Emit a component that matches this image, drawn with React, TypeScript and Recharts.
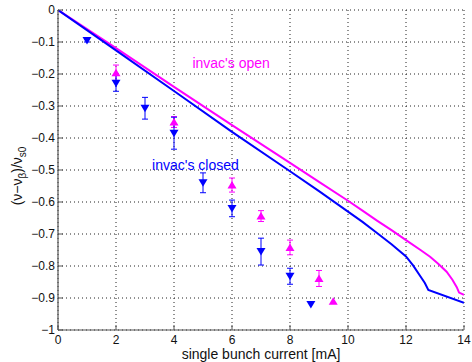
import React from "react";
import {
  ComposedChart,
  Line,
  Scatter,
  XAxis,
  YAxis,
  CartesianGrid,
  ErrorBar,
  ReferenceDot,
} from "recharts";

const FONT = "'Liberation Sans', Arial, sans-serif";
const BLUE = "#0000ff";
const MAGENTA = "#ff00ff";

const xTicks = [0, 2, 4, 6, 8, 10, 12, 14];
const yTicks = [-1, -0.9, -0.8, -0.7, -0.6, -0.5, -0.4, -0.3, -0.2, -0.1, 0];

const closedLine = [
  { x: 0, y: 0 },
  { x: 2, y: -0.126 },
  { x: 4, y: -0.253 },
  { x: 6, y: -0.381 },
  { x: 8, y: -0.504 },
  { x: 9, y: -0.566 },
  { x: 10, y: -0.63 },
  { x: 10.5, y: -0.662 },
  { x: 11, y: -0.697 },
  { x: 11.5, y: -0.732 },
  { x: 12, y: -0.77 },
  { x: 12.25, y: -0.799 },
  { x: 12.5, y: -0.833 },
  { x: 12.65, y: -0.853 },
  { x: 12.77, y: -0.875 },
  { x: 14, y: -0.915 },
];

const openLine = [
  { x: 0, y: 0 },
  { x: 2, y: -0.119 },
  { x: 4, y: -0.24 },
  { x: 6, y: -0.36 },
  { x: 8, y: -0.478 },
  { x: 9, y: -0.537 },
  { x: 10, y: -0.596 },
  { x: 10.5, y: -0.627 },
  { x: 11, y: -0.658 },
  { x: 11.5, y: -0.688 },
  { x: 12, y: -0.719 },
  { x: 12.5, y: -0.75 },
  { x: 12.83, y: -0.771 },
  { x: 13.1, y: -0.792 },
  { x: 13.4, y: -0.818 },
  { x: 13.6, y: -0.843 },
  { x: 13.75, y: -0.866 },
  { x: 13.83, y: -0.883 },
  { x: 14, y: -0.89 },
];

const closedPoints = [
  { x: 1, y: -0.095, err: 0.005 },
  { x: 2, y: -0.229, err: 0.025 },
  { x: 3, y: -0.307, err: 0.034 },
  { x: 4, y: -0.385, err: 0.05 },
  { x: 5, y: -0.54, err: 0.031 },
  { x: 6, y: -0.62, err: 0.026 },
  { x: 7, y: -0.755, err: 0.042 },
  { x: 8, y: -0.832, err: 0.025 },
  { x: 8.72, y: -0.92, err: 0 },
];

const openPoints = [
  { x: 2, y: -0.196, err: 0.024 },
  { x: 4, y: -0.35, err: 0.017 },
  { x: 6, y: -0.547, err: 0.022 },
  { x: 7, y: -0.644, err: 0.017 },
  { x: 8, y: -0.742, err: 0.023 },
  { x: 9, y: -0.839, err: 0.025 },
  { x: 9.49, y: -0.91, err: 0 },
];

const fmtY = (v: number) => {
  if (v === 0) return "0";
  const s = Math.abs(v) === 1 ? "1" : Math.abs(v).toFixed(1);
  return (v < 0 ? "\u2212" : "") + s;
};
const fmtX = (v: number) => String(v);

const AX = "#555";
const TL = 5;

const BottomTick = (p: any) => (
  <g>
    <line x1={p.x} x2={p.x} y1={p.y} y2={p.y - TL} stroke={AX} />
    <text x={p.x} y={p.y + 14} textAnchor="middle" fontSize={12} fontFamily={FONT} fill="#111">
      {fmtX(p.payload.value)}
    </text>
  </g>
);
const TopTick = (p: any) => (
  <line x1={p.x} x2={p.x} y1={p.y} y2={p.y + TL} stroke={AX} />
);
const LeftTick = (p: any) => (
  <g>
    <line x1={p.x} x2={p.x + TL} y1={p.y} y2={p.y} stroke={AX} />
    <text x={p.x - 3} y={p.y + 4} textAnchor="end" fontSize={12} fontFamily={FONT} fill="#111">
      {fmtY(p.payload.value)}
    </text>
  </g>
);
const RightTick = (p: any) => (
  <line x1={p.x} x2={p.x - TL} y1={p.y} y2={p.y} stroke={AX} />
);

const DownTri = (p: any) => {
  const { cx, cy } = p;
  return <path d={`M${cx - 4.5},${cy - 3.5} L${cx + 4.5},${cy - 3.5} L${cx},${cy + 4} Z`} fill={BLUE} />;
};
const UpTri = (p: any) => {
  const { cx, cy } = p;
  return <path d={`M${cx - 4.5},${cy + 3.5} L${cx + 4.5},${cy + 3.5} L${cx},${cy - 4} Z`} fill={MAGENTA} />;
};

const YLabel = () => (
  <text
    transform="rotate(-90)"
    x={-176}
    y={22}
    textAnchor="middle"
    fontSize={14}
    fontFamily={FONT}
    fill="#111"
  >
    (ν−ν
    <tspan fontSize={10} dy={4}>β</tspan>
    <tspan dy={-4}>)/ν</tspan>
    <tspan fontSize={10} dy={4}>s0</tspan>
  </text>
);

const XLabel = () => (
  <text x={261} y={359} textAnchor="middle" fontSize={14} fontFamily={FONT} fill="#111">
    single bunch current [mA]
  </text>
);

export default function App() {
  return (
    <div style={{ position: "absolute", left: 0, top: 0, background: "#fff" }}>
      <ComposedChart
        width={472}
        height={362}
        margin={{ top: 10, right: 8, left: 0, bottom: 0 }}
        style={{ fontFamily: FONT }}
      >
        <CartesianGrid stroke="#222" strokeDasharray="1 3" strokeWidth={1} />
        <XAxis
          dataKey="x"
          type="number"
          domain={[0, 14]}
          ticks={xTicks}
          interval={0}
          allowDataOverflow
          height={32}
          tickSize={0}
          tickMargin={0}
          tickLine={false}
          axisLine={{ stroke: AX, strokeWidth: 1.2 }}
          tick={BottomTick}
          label={<XLabel />}
        />
        <XAxis
          xAxisId="top"
          orientation="top"
          dataKey="x"
          type="number"
          domain={[0, 14]}
          ticks={xTicks}
          interval={0}
          height={0}
          tickSize={0}
          tickMargin={0}
          tickLine={false}
          axisLine={{ stroke: AX, strokeWidth: 1.2 }}
          tick={TopTick}
        />
        <YAxis
          type="number"
          domain={[-1, 0]}
          ticks={yTicks}
          interval={0}
          allowDataOverflow
          width={58}
          tickSize={0}
          tickMargin={0}
          tickLine={false}
          axisLine={{ stroke: AX, strokeWidth: 1.2 }}
          tick={LeftTick}
          label={<YLabel />}
        />
        <YAxis
          yAxisId="right"
          orientation="right"
          type="number"
          domain={[-1, 0]}
          ticks={yTicks}
          interval={0}
          width={0}
          tickSize={0}
          tickMargin={0}
          tickLine={false}
          axisLine={{ stroke: AX, strokeWidth: 1.2 }}
          tick={RightTick}
        />
        <Line
          data={openLine}
          dataKey="y"
          type="linear"
          stroke={MAGENTA}
          strokeWidth={2}
          dot={false}
          isAnimationActive={false}
        />
        <Line
          data={closedLine}
          dataKey="y"
          type="linear"
          stroke={BLUE}
          strokeWidth={2}
          dot={false}
          isAnimationActive={false}
        />
        <Scatter data={openPoints} dataKey="y" shape={UpTri} isAnimationActive={false}>
          <ErrorBar dataKey="err" direction="y" width={3} stroke={MAGENTA} strokeWidth={1} />
        </Scatter>
        <Scatter data={closedPoints} dataKey="y" shape={DownTri} isAnimationActive={false}>
          <ErrorBar dataKey="err" direction="y" width={3} stroke={BLUE} strokeWidth={1} />
        </Scatter>
        <ReferenceDot
          x={5.97}
          y={-0.166}
          r={0}
          fill="none"
          stroke="none"
          label={{ value: "invac's open", position: "center", fill: MAGENTA, fontSize: 14, fontFamily: FONT }}
        />
        <ReferenceDot
          x={4.74}
          y={-0.484}
          r={0}
          fill="none"
          stroke="none"
          label={{ value: "invac's closed", position: "center", fill: BLUE, fontSize: 14, fontFamily: FONT }}
        />
      </ComposedChart>
    </div>
  );
}
